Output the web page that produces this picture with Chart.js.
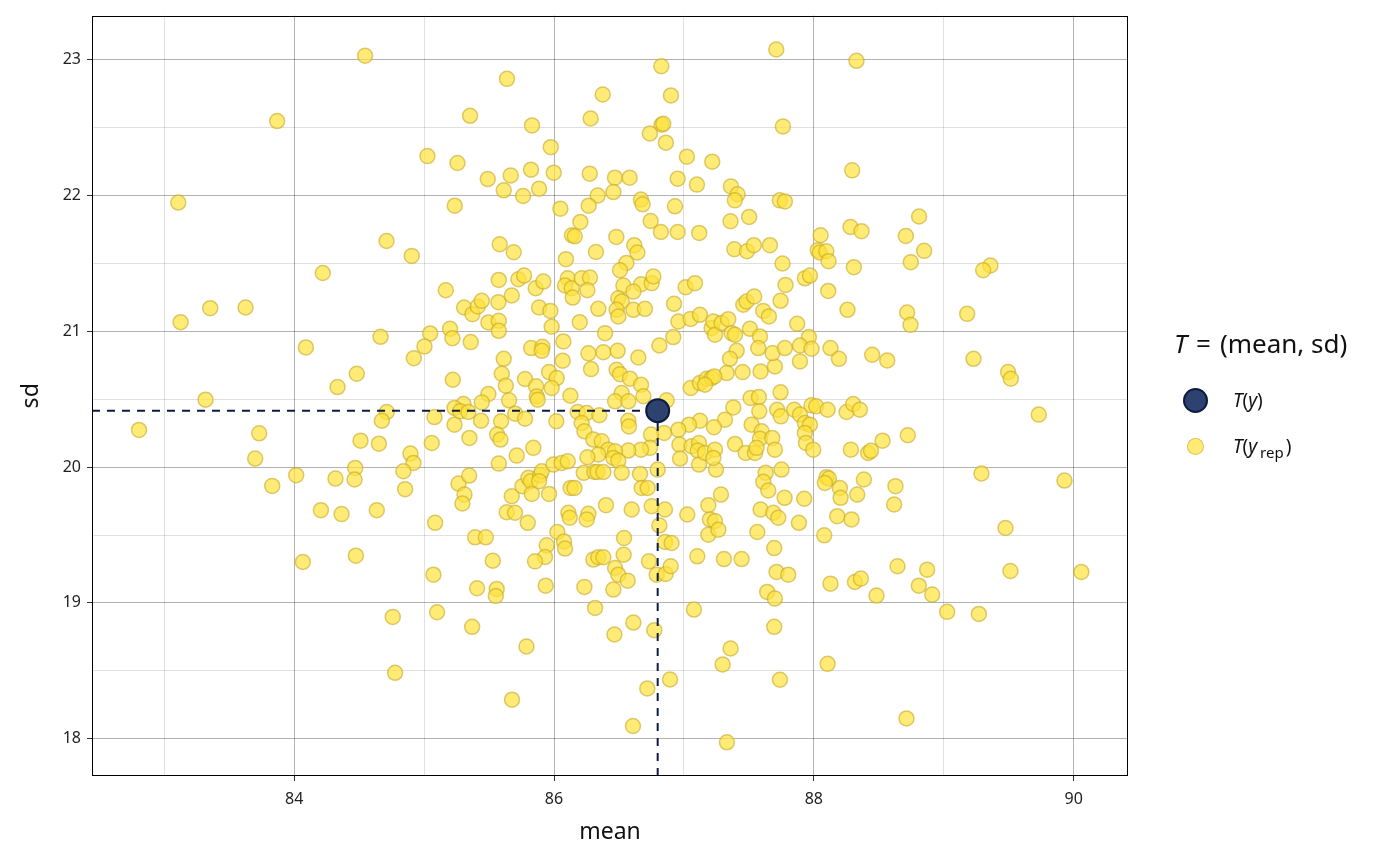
<!DOCTYPE html>
<html>
<head>
<meta charset="utf-8">
<script src="https://cdn.jsdelivr.net/npm/chart.js@4.4.1/dist/chart.umd.min.js"></script>
<style>
  html, body { margin: 0; padding: 0; background: #fff; }
  #wrap { position: relative; width: 1400px; height: 866px; font-family: "Noto Sans", sans-serif; color: #111; }
  #legend .ltitle { position: absolute; left: 1174px; top: 326px; font-size: 26px; line-height: 34px; white-space: nowrap; }
  #legend .ltitle .eq { margin: 0 9px; }
  #legend .key { position: absolute; border-radius: 50%; box-sizing: border-box; }
  #legend .obs { left: 1183px; top: 388px; width: 25px; height: 25px; background: #2e4270; border: 2px solid #0c1c40; }
  #legend .rep { left: 1187px; top: 438px; width: 17px; height: 17px; background: rgba(255, 226, 60, 0.7); border: 1.5px solid rgba(196, 168, 40, 0.6); }
  #legend .lab { position: absolute; left: 1233px; font-size: 19px; line-height: 24px; white-space: nowrap; }
  #legend sub { font-size: 15px; font-style: normal; vertical-align: -5px; line-height: 0; margin: 0 2px 0 3px; }
</style>
</head>
<body>
<div id="wrap">
  <canvas id="statChart" width="1400" height="866"></canvas>
  <div id="legend">
    <div class="ltitle"><i>T</i><span class="eq">=</span>(mean, sd)</div>
    <span class="key obs"></span>
    <div class="lab" style="top: 388px;"><i>T</i>(<i>y</i>)</div>
    <span class="key rep"></span>
    <div class="lab" style="top: 434px;"><i>T</i>(<i>y</i><sub>rep</sub>)</div>
  </div>
</div>
<script>
// observed statistic T(y)
const obsMean = 86.798;
const obsSd = 20.416;

// replicated statistics T(y_rep)
const repMean = [
  83.869, 83.108, 84.22,
  84.546, 85.638, 86.375, 85.354, 85.831, 86.282, 85.975, 85.026, 85.257, 85.49,
  85.667, 85.823, 85.998, 86.275, 85.613, 85.762, 85.885, 86.336, 85.236, 86.049,
  86.267, 86.203, 86.138, 86.16, 84.711, 84.905, 85.582, 85.69, 86.323, 86.092,
  87.711, 88.328, 86.826, 86.9, 86.828, 86.841, 86.738, 86.861, 87.762, 87.023,
  87.218, 88.295, 86.469, 86.582, 86.952, 87.1, 86.457, 87.362, 87.413, 87.392,
  87.738, 87.777, 86.669, 86.682, 86.931, 86.744, 86.823, 86.952, 87.118, 87.359,
  87.502, 88.282, 88.367, 88.052, 86.48, 86.618, 86.642, 87.388, 87.485, 87.538,
  87.662, 88.03, 88.045, 88.096, 88.113, 88.308, 87.759, 86.557, 86.508,
  88.81, 88.708, 88.849, 88.746, 89.359, 89.303,
  83.126, 83.354, 83.626, 84.09, 84.334, 83.318, 82.806, 83.731, 83.7, 84.016,
  83.831, 84.318, 84.206, 84.365,
  85.167, 85.575, 85.726, 85.77, 85.859, 85.918, 86.106, 86.085, 86.136, 86.213,
  86.277, 86.257, 86.144, 85.675, 85.572, 85.308, 85.372, 85.413, 85.444, 85.885,
  85.972, 86.341, 85.495, 85.575, 85.575, 85.982, 86.198, 84.665, 85.047, 85.2,
  85.218, 85.359, 85.003, 84.921, 84.482, 85.221, 85.613, 85.598, 85.629, 85.824,
  85.911, 85.906, 86.072, 86.067, 86.265, 86.38, 86.285, 86.393, 85.777, 85.962,
  86.021, 85.982, 85.862, 85.867, 85.875, 86.126, 85.654, 85.495, 85.444, 85.303,
  85.234, 85.277, 85.341, 84.713, 84.675, 85.08, 85.234, 85.439, 85.593, 85.701,
  85.777, 86.018, 86.182, 86.252, 86.349, 86.213, 86.234, 85.562, 85.588, 85.349,
  84.511, 84.652, 85.059, 85.841, 85.713, 85.575, 86.303, 86.367, 86.418, 86.341,
  86.257, 84.895, 84.918, 84.841, 84.47, 84.465, 84.854, 84.636, 85.265, 85.347,
  85.311, 85.295, 85.085, 85.675, 85.757, 85.803, 85.821, 85.893, 85.906, 85.885,
  85.829, 85.962, 85.995, 86.059, 86.106, 86.229, 86.311, 86.334, 86.38, 86.128,
  86.157, 86.4, 86.111, 86.121, 86.265, 86.252, 85.636, 85.7, 85.798,
  86.534, 86.67, 86.752, 86.765, 86.611, 86.495, 86.521, 86.482, 86.495, 86.611,
  86.7, 86.924, 87.013, 87.085, 86.957, 87.052, 87.123, 87.213, 87.226, 87.239,
  87.29, 87.341, 87.367, 87.393, 87.457, 87.482, 87.541, 87.611, 87.654, 87.508,
  87.585, 87.572, 87.406, 87.354, 87.329, 87.452, 87.59, 87.7, 87.682, 87.777,
  87.744, 87.782, 87.931, 87.97, 88.111, 88.259, 87.872, 87.962, 87.893, 87.982,
  87.893, 88.128, 88.193, 86.811, 86.918, 86.649, 86.49, 86.482, 86.508, 86.585,
  86.67, 86.521, 86.47, 86.572, 86.688, 86.867, 87.052, 87.123, 87.175, 87.213,
  87.234, 87.162, 87.513, 87.577, 87.744, 87.38, 87.58, 87.718, 87.746, 87.849,
  87.893, 87.982, 88.018, 88.106, 88.252, 88.303, 88.354, 87.316, 87.123, 87.039,
  87.231, 86.957, 86.847, 86.572, 86.577, 86.747, 86.739, 86.67, 86.572, 86.47,
  86.457, 86.495, 86.965, 86.97, 87.059, 87.116, 87.106, 87.116, 87.162, 87.239,
  87.247, 87.226, 87.393, 87.475, 87.547, 87.521, 87.598, 87.585, 87.68, 87.7,
  87.559, 87.931, 87.97, 87.931, 87.939, 87.995, 88.285, 88.418, 86.798, 86.521,
  86.662, 86.675, 86.721, 86.598, 86.752, 86.854, 87.026, 87.188, 87.2, 87.239,
  87.285, 87.629, 87.751, 87.611, 87.649, 87.775, 87.926, 87.59, 87.688, 87.726,
  87.885, 88.098, 88.116, 88.085, 88.2, 88.206, 88.334, 88.385, 88.18, 88.29,
  88.718, 88.744, 89.18, 88.449, 88.565, 89.229, 89.495, 89.516, 89.731, 88.723,
  88.529, 88.44, 88.628, 88.618, 89.29, 89.929,
  84.067, 84.475, 85.393, 85.475, 86.026, 86.077, 86.085, 85.944, 85.931, 85.529,
  85.854, 86.303, 86.341, 86.38, 85.072, 85.408, 85.559, 85.552, 85.936, 86.234,
  86.316, 84.759, 85.1, 85.37, 85.788, 84.777, 85.677,
  86.811, 87.188, 87.265, 87.565, 88.08, 86.539, 86.536, 86.854, 86.905, 86.731,
  86.79, 86.859, 86.898, 86.47, 86.495, 86.567, 86.457, 87.103, 87.308, 87.444,
  87.695, 87.713, 87.803, 87.641, 87.7, 88.128, 88.316, 88.362, 87.077, 86.611,
  86.465, 86.772, 87.695, 87.359, 87.298, 88.106, 86.893, 87.739, 86.718, 86.608,
  87.331,
  89.475, 88.644, 88.872, 88.808, 88.911, 88.482, 89.026, 89.27, 89.513, 90.059, 88.713
];
const repSd = [
  22.549, 21.949, 21.43,
  23.03, 22.86, 22.745, 22.588, 22.517, 22.568, 22.357, 22.291, 22.24, 22.122,
  22.149, 22.191, 22.169, 22.162, 22.039, 21.997, 22.051, 22.0, 21.926, 21.904,
  21.926, 21.806, 21.708, 21.7, 21.666, 21.556, 21.642, 21.583, 21.585, 21.532,
  23.076, 22.993, 22.953, 22.738, 22.522, 22.529, 22.458, 22.39, 22.51, 22.287,
  22.25, 22.186, 22.132, 22.132, 22.125, 22.081, 22.026, 22.068, 22.01, 21.965,
  21.965, 21.957, 21.971, 21.936, 21.921, 21.813, 21.732, 21.732, 21.725, 21.811,
  21.843, 21.769, 21.738, 21.708, 21.696, 21.635, 21.581, 21.605, 21.59, 21.635,
  21.635, 21.598, 21.581, 21.59, 21.517, 21.473, 21.5, 21.504, 21.45,
  21.846, 21.703, 21.593, 21.51, 21.485, 21.45,
  21.068, 21.171, 21.176, 20.882, 20.59, 20.497, 20.274, 20.249, 20.063, 19.941,
  19.862, 19.916, 19.683, 19.654,
  21.303, 21.379, 21.384, 21.411, 21.318, 21.367, 21.391, 21.338, 21.318, 21.391,
  21.396, 21.303, 21.249, 21.264, 21.215, 21.176, 21.127, 21.183, 21.225, 21.176,
  21.151, 21.166, 21.066, 21.078, 21.004, 21.034, 21.068, 20.96, 20.985, 21.019,
  20.95, 20.921, 20.889, 20.803, 20.688, 20.644, 20.798, 20.688, 20.6, 20.877,
  20.887, 20.857, 20.926, 20.784, 20.838, 20.847, 20.722, 20.987, 20.649, 20.7,
  20.656, 20.583, 20.595, 20.521, 20.497, 20.526, 20.492, 20.539, 20.477, 20.465,
  20.436, 20.411, 20.406, 20.406, 20.342, 20.369, 20.313, 20.342, 20.338, 20.394,
  20.357, 20.338, 20.406, 20.399, 20.382, 20.325, 20.264, 20.24, 20.203, 20.215,
  20.195, 20.173, 20.178, 20.142, 20.085, 20.026, 20.203, 20.19, 20.129, 20.093,
  20.073, 20.1, 20.031, 19.97, 19.994, 19.909, 19.838, 19.683, 19.879, 19.938,
  19.798, 19.732, 19.59, 19.786, 19.86, 19.921, 19.896, 19.94, 19.97, 19.896,
  19.803, 19.803, 20.019, 20.031, 20.043, 19.958, 19.965, 19.965, 19.965, 19.847,
  19.847, 19.72, 19.664, 19.627, 19.656, 19.615, 19.668, 19.664, 19.59,
  21.338, 21.347, 21.355, 21.404, 21.293, 21.244, 21.22, 21.159, 21.11, 21.159,
  21.166, 21.203, 21.325, 21.355, 21.073, 21.092, 21.122, 21.024, 21.073, 20.975,
  21.061, 21.09, 20.987, 20.975, 21.196, 21.22, 21.257, 21.151, 21.11, 21.019,
  20.963, 20.877, 20.857, 20.798, 20.693, 20.7, 20.705, 20.742, 20.84, 20.877,
  21.225, 21.342, 21.391, 21.411, 21.298, 21.159, 21.056, 20.958, 20.896, 20.872,
  20.779, 20.877, 20.798, 20.896, 20.958, 20.808, 20.857, 20.717, 20.685, 20.652,
  20.607, 20.546, 20.485, 20.485, 20.522, 20.492, 20.583, 20.619, 20.651, 20.656,
  20.668, 20.607, 20.509, 20.516, 20.551, 20.44, 20.411, 20.423, 20.374, 20.423,
  20.387, 20.455, 20.448, 20.423, 20.406, 20.465, 20.423, 20.35, 20.342, 20.313,
  20.294, 20.276, 20.252, 20.342, 20.3, 20.24, 20.142, 20.129, 20.122, 20.117,
  20.068, 20.048, 20.166, 20.063, 20.154, 20.178, 20.122, 20.019, 20.105, 20.129,
  19.982, 20.068, 20.171, 20.105, 20.105, 20.313, 20.264, 20.21, 20.215, 20.129,
  20.142, 20.325, 20.313, 20.252, 20.178, 20.129, 20.129, 20.105, 19.982, 19.958,
  19.95, 19.847, 19.847, 19.688, 19.712, 19.688, 19.651, 19.72, 19.615, 19.603,
  19.798, 19.958, 19.982, 19.892, 19.828, 19.774, 19.767, 19.688, 19.664, 19.627,
  19.59, 19.926, 19.916, 19.884, 19.847, 19.774, 19.798, 19.909, 19.639, 19.615,
  21.139, 21.048, 21.129, 20.828, 20.786, 20.798, 20.7, 20.651, 20.387, 20.235,
  20.195, 20.12, 19.86, 19.725, 19.953, 19.901,
  19.301, 19.348, 19.483, 19.483, 19.522, 19.453, 19.4, 19.424, 19.338, 19.311,
  19.306, 19.319, 19.336, 19.336, 19.208, 19.108, 19.103, 19.051, 19.127, 19.118,
  18.963, 18.897, 18.931, 18.824, 18.679, 18.485, 18.287,
  19.571, 19.502, 19.539, 19.522, 19.498, 19.478, 19.355, 19.449, 19.441, 19.306,
  19.208, 19.213, 19.27, 19.257, 19.208, 19.164, 19.098, 19.343, 19.323, 19.323,
  19.404, 19.228, 19.208, 19.081, 19.032, 19.142, 19.154, 19.179, 18.951, 18.855,
  18.767, 18.799, 18.824, 18.664, 18.547, 18.551, 18.436, 18.434, 18.37, 18.093,
  17.973,
  19.552, 19.27, 19.245, 19.127, 19.061, 19.054, 18.934, 18.919, 19.235, 19.228, 18.149
];

// axis limits and breaks
const xMin = 82.444, xMax = 90.418;
const yMin = 17.725, yMax = 23.326;
const xMajor = [84, 86, 88, 90];
const xMinor = [83, 85, 87, 89];
const yMajor = [18, 19, 20, 21, 22, 23];
const yMinor = [18.5, 19.5, 20.5, 21.5, 22.5];

const repPoints = repMean.map((m, i) => ({ x: m, y: repSd[i] }));

const panelBorder = {
  id: 'panelBorder',
  afterDraw(chart) {
    const { ctx, chartArea: a } = chart;
    ctx.save();
    ctx.strokeStyle = '#000';
    ctx.lineWidth = 1;
    ctx.strokeRect(Math.round(a.left) + 0.5, Math.round(a.top) + 0.5,
      Math.round(a.right - a.left) - 1, Math.round(a.bottom - a.top) - 1);
    ctx.restore();
  }
};

const gridColor = (majors) => (c) => majors.includes(c.tick.value) ? 'rgba(0,0,0,0.30)' : 'rgba(0,0,0,0.12)';
const tickColor = (majors) => (c) => majors.includes(c.tick.value) ? '#333' : 'rgba(0,0,0,0)';
const tickFont = { family: '"Noto Sans", sans-serif', size: 16 };
const titleFont = { family: '"Noto Sans", sans-serif', size: 23 };

new Chart(document.getElementById('statChart'), {
  type: 'scatter',
  data: {
    datasets: [
      {
        label: 'T(y)',
        data: [{ x: obsMean, y: obsSd }],
        pointRadius: 11.5,
        pointBorderWidth: 2,
        backgroundColor: '#2e4270',
        borderColor: '#0c1c40',
        order: 0
      },
      {
        type: 'line',
        data: [{ x: xMin, y: obsSd }, { x: obsMean, y: obsSd }],
        borderColor: '#0c1c40',
        borderWidth: 2,
        borderDash: [8, 7],
        pointRadius: 0,
        fill: false,
        order: 1
      },
      {
        type: 'line',
        data: [{ x: obsMean, y: yMin }, { x: obsMean, y: obsSd }],
        borderColor: '#0c1c40',
        borderWidth: 2,
        borderDash: [8, 7],
        pointRadius: 0,
        fill: false,
        order: 1
      },
      {
        label: 'T(yrep)',
        data: repPoints,
        pointRadius: 7.5,
        pointBorderWidth: 1.5,
        backgroundColor: 'rgba(255, 226, 60, 0.7)',
        borderColor: 'rgba(196, 168, 40, 0.6)',
        order: 2
      }
    ]
  },
  options: {
    responsive: false,
    animation: false,
    layout: { padding: { top: 15, right: 272, left: 0, bottom: 0 } },
    plugins: {
      legend: { display: false },
      tooltip: { enabled: false }
    },
    scales: {
      x: {
        type: 'linear',
        min: xMin,
        max: xMax,
        afterBuildTicks: axis => { axis.ticks = [...xMinor, ...xMajor].sort((a, b) => a - b).map(v => ({ value: v })); },
        afterFit: axis => { axis.height = 90; },
        ticks: {
          autoSkip: false,
          maxRotation: 0,
          padding: 9,
          color: '#222',
          font: tickFont,
          callback: v => xMajor.includes(v) ? String(v) : ''
        },
        grid: { color: gridColor(xMajor), tickColor: tickColor(xMajor), tickLength: 5, lineWidth: 1 },
        border: { display: false },
        title: { display: true, text: 'mean', color: '#111', font: titleFont, padding: { top: 0, bottom: 20 } }
      },
      y: {
        type: 'linear',
        min: yMin,
        max: yMax,
        afterBuildTicks: axis => { axis.ticks = [...yMinor, ...yMajor].sort((a, b) => a - b).map(v => ({ value: v })); },
        afterFit: axis => { axis.width = 92; },
        ticks: {
          autoSkip: false,
          padding: 6,
          color: '#222',
          font: tickFont,
          callback: v => yMajor.includes(v) ? String(v) : ''
        },
        grid: { color: gridColor(yMajor), tickColor: tickColor(yMajor), tickLength: 5, lineWidth: 1 },
        border: { display: false },
        title: { display: true, text: 'sd', color: '#111', font: titleFont, padding: { top: 18, bottom: 0 } }
      }
    }
  },
  plugins: [panelBorder]
});
</script>
</body>
</html>
